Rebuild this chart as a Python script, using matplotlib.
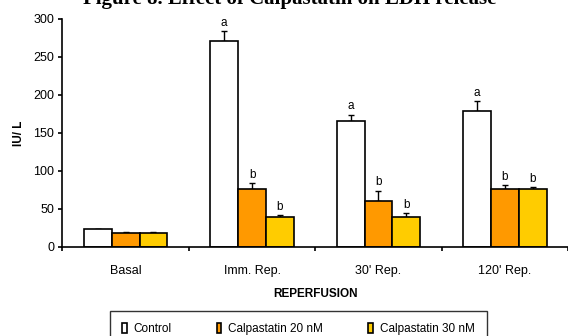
import matplotlib
matplotlib.use("Agg")
import matplotlib.pyplot as plt
import numpy as np
from matplotlib.patches import Patch

categories = ["Basal", "Imm. Rep.", "30' Rep.", "120' Rep."]
series_names = ["Control", "Calpastatin 20 nM", "Calpastatin 30 nM"]
control = [23, 271, 166, 179]
calp20 = [18, 76, 60, 76]
calp30 = [18, 39, 39, 76]
control_err = [1, 13, 8, 13]
calp20_err = [2, 8, 14, 5]
calp30_err = [2, 3, 5, 3]
control_sig = ["", "a", "a", "a"]
calp20_sig = ["", "b", "b", "b"]
calp30_sig = ["", "b", "b", "b"]
y_ticks = [0, 50, 100, 150, 200, 250, 300]

colors = ["#FFFFFF", "#FF9900", "#FFCC00"]
fnt = "Liberation Sans"

fig = plt.figure(figsize=(5.68, 3.36), dpi=100)
ax = fig.add_axes([0.110, 0.265, 0.890, 0.679])

x = np.arange(len(categories))
w = 0.22
series = [control, calp20, calp30]
errs = [control_err, calp20_err, calp30_err]
sigs = [control_sig, calp20_sig, calp30_sig]
offsets = [-w, 0, w]
for vals, err, sig, off, col in zip(series, errs, sigs, offsets, colors):
    vals = np.array(vals, dtype=float)
    err = np.array(err, dtype=float)
    ax.bar(x + off, vals, width=w, color=col, edgecolor="black", linewidth=1.2, zorder=2)
    ax.errorbar(x + off, vals, yerr=[np.zeros_like(err), err], fmt="none",
                ecolor="black", elinewidth=1.0, capsize=2.5, capthick=1.0, zorder=1)
    for xi, v, e, s in zip(x + off, vals, err, sig):
        if s:
            ax.text(xi, v + e + 3, s, ha="center", va="bottom", fontsize=8.5,
                    family=fnt)

ax.set_xlim(-0.5, 3.5)
ax.set_ylim(0, 300)
ax.set_yticks(y_ticks)
ax.set_yticklabels([str(t) for t in y_ticks], fontsize=9, family=fnt)
ax.set_xticks([-0.5, 0.5, 1.5, 2.5, 3.5])
ax.set_xticklabels([])
ax.set_xticks(x, minor=True)
ax.set_xticklabels(categories, minor=True, fontsize=9, family=fnt)
ax.tick_params(axis="x", which="minor", length=0, pad=13)
ax.tick_params(axis="x", which="major", length=3, width=1.2, direction="out")
ax.tick_params(axis="y", length=3, width=1.2, direction="out", pad=3)
for s in ["top", "right"]:
    ax.spines[s].set_visible(False)
for s in ["left", "bottom"]:
    ax.spines[s].set_linewidth(1.2)

ax.set_ylabel("IU/ L", fontsize=8.5, family=fnt, fontweight="bold", labelpad=6)
ax.set_xlabel("REPERFUSION", fontsize=8.5, family=fnt, fontweight="bold", labelpad=8)

fig.text(0.51, 0.988, "Figure 8. Effect of Calpastatin on LDH release",
         ha="center", va="baseline", fontsize=15, family="Liberation Serif",
         fontweight="bold")

handles = [Patch(facecolor=c, edgecolor="black", linewidth=1.2) for c in colors]
leg = fig.legend(handles, series_names, loc="upper left",
                 bbox_to_anchor=(110 / 568, 25 / 336), ncol=3, frameon=True,
                 fancybox=False, edgecolor="black",
                 prop={"family": fnt, "size": 8.5},
                 handlelength=0.4, handleheight=1.0, handletextpad=0.6,
                 columnspacing=3.8, borderpad=1.0, borderaxespad=0)
leg.get_frame().set_linewidth(1.0)

fig.savefig("out.png", dpi=100)
